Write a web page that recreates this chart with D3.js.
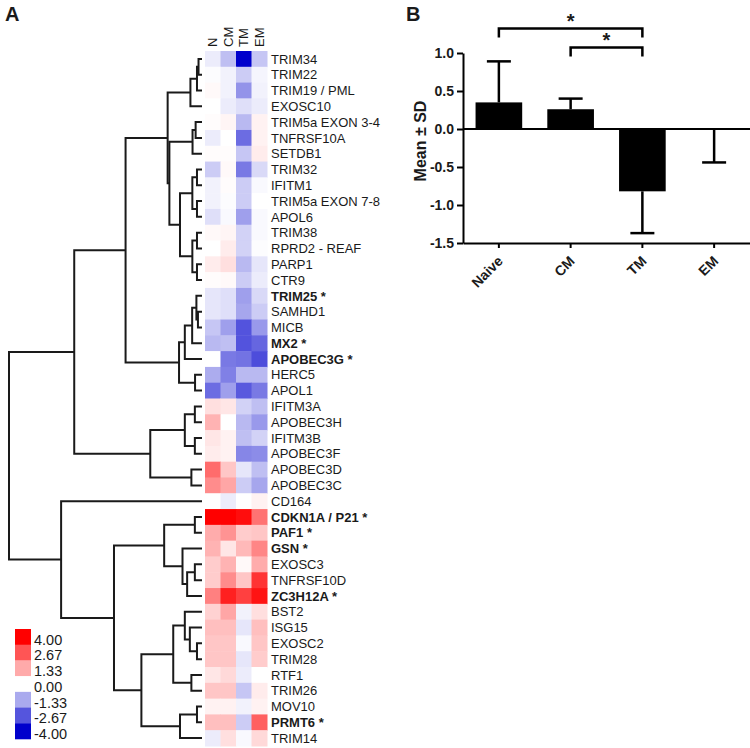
<!DOCTYPE html>
<html>
<head>
<meta charset="utf-8">
<script src="https://cdn.jsdelivr.net/npm/d3@7"></script>
<style>
body { margin: 0; background: #fff; }
text { font-family: Arial, "Liberation Sans", sans-serif; fill: #1a1a1a; }
</style>
</head>
<body>
<script>
// Panel A: genes (top to bottom), starred genes are drawn bold
var genes = ["TRIM34", "TRIM22", "TRIM19 / PML", "EXOSC10", "TRIM5a EXON 3-4", "TNFRSF10A", "SETDB1",
  "TRIM32", "IFITM1", "TRIM5a EXON 7-8", "APOL6", "TRIM38", "RPRD2 - REAF", "PARP1", "CTR9",
  "TRIM25", "SAMHD1", "MICB", "MX2", "APOBEC3G", "HERC5", "APOL1", "IFITM3A", "APOBEC3H",
  "IFITM3B", "APOBEC3F", "APOBEC3D", "APOBEC3C", "CD164", "CDKN1A / P21", "PAF1", "GSN",
  "EXOSC3", "TNFRSF10D", "ZC3H12A", "BST2", "ISG15", "EXOSC2", "TRIM28", "RTF1", "TRIM26",
  "MOV10", "PRMT6", "TRIM14"];
var starred = ["TRIM25", "MX2", "APOBEC3G", "CDKN1A / P21", "PAF1", "GSN", "ZC3H12A", "PRMT6"];
var columns = ["N", "CM", "TM", "EM"];

// values per gene: N, CM, TM, EM
var heatValues = [
  [-0.3, -1.0, -4.0, -0.9], [-0.05, -0.2, -0.8, -0.15], [0.1, -0.2, -1.7, -0.2], [0, -0.3, -0.5, -0.3],
  [0.05, 0.15, -1.1, 0.2], [-0.3, 0, -2.3, 0.2], [0.05, 0.05, -0.9, 0.3], [-0.8, 0.1, -2.1, -0.6],
  [-0.2, 0.05, -0.8, -0.1], [-0.2, -0.05, -0.8, 0], [-0.5, -0.1, -1.5, -0.1], [0.1, 0.15, -0.7, -0.1],
  [0, 0.3, -0.7, -0.05], [0.3, 0.5, -1.1, -0.4], [0.05, 0.1, -0.8, -0.3], [-0.4, -0.5, -1.5, -0.6],
  [-0.4, -0.5, -1.4, -0.8], [-0.9, -1.5, -2.7, -1.6], [-1.1, -1.0, -2.7, -2.4], [0, -2.1, -2.2, -2.8],
  [-1.3, -2.0, -1.1, -1.1], [-2.3, -1.5, -2.6, -2.1], [0.5, 0.4, -0.7, -1.0], [1.2, 0, -1.1, -1.6],
  [0.4, 0.2, -1.0, -0.7], [0.3, 0.2, -1.9, -1.8], [2.3, 0.9, -0.4, -1.0], [1.8, 1.4, -0.8, -1.4],
  [0, -0.3, 0, 0.2], [4.0, 4.0, 3.8, 2.2], [1.3, 1.7, 0.8, 0.9], [1.2, 0.4, 1.1, 1.9],
  [0.8, 1.2, 0.1, 1.3], [0.8, 1.8, 0.9, 3.2], [2.0, 3.5, 3.0, 3.7], [0.7, 1.4, -0.2, 0.5],
  [1.0, 1.0, -0.4, 1.0], [0.9, 0.9, -0.1, 0.9], [0.9, 0.9, -0.4, 0.8], [0.4, 0.6, -0.3, 0],
  [0.9, 0.9, -0.9, 0.3], [0.2, 0.2, -0.2, 0.2], [1.0, 1.0, -0.8, 2.5], [-0.3, 0.5, -0.1, 0.6]
];

// hierarchical clustering merges: [a, b, height]; negative = gene (1-based), positive = earlier merge
var merges = [
  [-1, -2, 0.18], [1, -3, 0.26], [2, -4, 0.60], [-5, -6, 0.33], [4, -7, 0.49],
  [-8, -9, 0.26], [-10, -11, 0.26], [6, 7, 0.50], [-12, -13, 0.26], [-14, -15, 0.26],
  [9, 10, 0.50], [8, 11, 1.14], [5, 12, 1.69], [3, 13, 1.78], [-17, -18, 0.21],
  [-16, 15, 0.29], [16, -19, 0.51], [17, -20, 0.89], [-21, -22, 0.36], [18, 19, 1.19],
  [14, 20, 3.96], [-23, -24, 0.37], [-25, -26, 0.37], [22, 23, 0.89], [-27, -28, 0.55],
  [24, 25, 2.68], [21, 26, 6.62], [-30, -31, 0.37], [-33, -34, 0.37], [29, -35, 0.77],
  [-32, 30, 1.01], [28, 31, 1.96], [-38, -39, 0.26], [-37, 33, 0.63], [-36, 34, 0.89],
  [-40, -41, 0.55], [35, 36, 1.49], [-42, -43, 0.26], [38, -44, 1.14], [37, 39, 3.14],
  [32, 40, 4.56], [-29, 41, 7.30], [27, 42, 10.0]
];

var legendValues = [4, 2.67, 1.33, 0, -1.33, -2.67, -4];

// Panel B
var barCats = ["Naive", "CM", "TM", "EM"];
var barMeans = [0.35, 0.26, -0.82, -0.01];
var barSD = [0.54, 0.14, 0.55, 0.43];
var yTicks = [-1.5, -1.0, -0.5, 0.0, 0.5, 1.0];
var sigPairs = [["Naive", "TM"], ["CM", "TM"]];

var width = 750, height = 748;
var svg = d3.select("body").append("svg").attr("width", width).attr("height", height);

// panel letters
svg.append("text").attr("x", 5).attr("y", 21).attr("font-size", 20).attr("font-weight", "bold").text("A");
svg.append("text").attr("x", 406).attr("y", 21).attr("font-size", 20).attr("font-weight", "bold").text("B");

// ---- heatmap ----
var rowY = d3.scaleBand().domain(genes).range([51, 746]);
var colX = d3.scaleBand().domain(columns).range([205, 267]);
var color = d3.scaleLinear().domain([-4, 0, 4]).range(["#0000cc", "#ffffff", "#ff0000"]);

var cells = [];
genes.forEach(function(g, i) {
  columns.forEach(function(c, j) { cells.push({gene: g, col: c, v: heatValues[i][j]}); });
});

svg.append("g").selectAll("rect")
  .data(cells)
  .enter().append("rect")
  .attr("x", d => colX(d.col))
  .attr("y", d => rowY(d.gene))
  .attr("width", colX.bandwidth() + 0.5)
  .attr("height", rowY.bandwidth() + 0.5)
  .attr("fill", d => color(d.v));

svg.append("g").selectAll("text")
  .data(columns)
  .enter().append("text")
  .attr("transform", d => "translate(" + (colX(d) + colX.bandwidth() / 2 + 4.5) + ",47) rotate(-90)")
  .attr("font-size", 13)
  .text(d => d);

svg.append("g").selectAll("text")
  .data(genes)
  .enter().append("text")
  .attr("x", 271)
  .attr("y", d => rowY(d) + rowY.bandwidth() / 2)
  .attr("dy", "0.36em")
  .attr("font-size", 13)
  .attr("font-weight", d => starred.indexOf(d) >= 0 ? "bold" : "normal")
  .text(d => starred.indexOf(d) >= 0 ? d + " *" : d);

// ---- dendrogram ----
var dendX = d3.scaleLinear().domain([0, 10]).range([202, 9]);
var nodes = [];
function nodePos(k) {
  if (k < 0) return {x: dendX(0), y: rowY(genes[-k - 1]) + rowY.bandwidth() / 2};
  return nodes[k - 1];
}
merges.forEach(function(m) {
  var a = nodePos(m[0]), b = nodePos(m[1]);
  nodes.push({x: dendX(m[2]), y: (a.y + b.y) / 2, a: a, b: b});
});

svg.append("g").selectAll("path")
  .data(nodes)
  .enter().append("path")
  .attr("d", d => "M" + d.a.x + "," + d.a.y + "H" + d.x + "V" + d.b.y + "H" + d.b.x)
  .attr("fill", "none")
  .attr("stroke", "#1a1a1a")
  .attr("stroke-width", 2);

// ---- colour legend ----
var legY = d3.scaleBand().domain(legendValues).range([629, 739]);
svg.append("g").selectAll("rect")
  .data(legendValues)
  .enter().append("rect")
  .attr("x", 15)
  .attr("y", d => legY(d))
  .attr("width", 16)
  .attr("height", legY.bandwidth() + 0.3)
  .attr("fill", d => color(d));
svg.append("g").selectAll("text")
  .data(legendValues)
  .enter().append("text")
  .attr("x", 34)
  .attr("y", d => legY(d) + legY.bandwidth())
  .attr("font-size", 14.5)
  .text(d => d.toFixed(2));

// ---- bar chart ----
var bx = d3.scaleBand().domain(barCats).range([463, 750]).paddingInner(0.35).paddingOuter(0.175);
var by = d3.scaleLinear().domain([-1.5, 1.0]).range([243, 53]);
var barData = barCats.map(function(c, i) { return {cat: c, mean: barMeans[i], sd: barSD[i]}; });

svg.append("g").selectAll("rect")
  .data(barData)
  .enter().append("rect")
  .attr("x", d => bx(d.cat))
  .attr("y", d => Math.min(by(d.mean), by(0)))
  .attr("width", bx.bandwidth())
  .attr("height", d => Math.abs(by(d.mean) - by(0)))
  .attr("fill", "#000");

// one-sided error bars
var err = svg.append("g").attr("stroke", "#000").attr("stroke-width", 2.5);
barData.forEach(function(d) {
  var cx = bx(d.cat) + bx.bandwidth() / 2;
  var tip = d.mean >= 0 ? d.mean + d.sd : d.mean - d.sd;
  err.append("line").attr("x1", cx).attr("x2", cx).attr("y1", by(d.mean)).attr("y2", by(tip));
  err.append("line").attr("x1", cx - 12).attr("x2", cx + 12).attr("y1", by(tip)).attr("y2", by(tip));
});

var yAxis = svg.append("g")
  .attr("transform", "translate(463,0)")
  .call(d3.axisLeft(by).tickValues(yTicks).tickFormat(d => d.toFixed(1)).tickSize(6).tickSizeOuter(0));
yAxis.selectAll("path, line").attr("stroke", "#000").attr("stroke-width", 2);
yAxis.selectAll("text").attr("font-size", 14).attr("font-weight", "bold")
  .attr("font-family", "Arial, 'Liberation Sans', sans-serif").attr("fill", "#1a1a1a");

var xAxis = svg.append("g")
  .attr("transform", "translate(0,243)")
  .call(d3.axisBottom(bx).tickSize(5).tickSizeOuter(0));
xAxis.selectAll("path, line").attr("stroke", "#000").attr("stroke-width", 2);
xAxis.selectAll("text")
  .attr("x", 0).attr("y", 0).attr("dy", 0)
  .attr("text-anchor", "end")
  .attr("transform", "translate(5,19) rotate(-45)")
  .attr("font-size", 14).attr("font-weight", "bold")
  .attr("font-family", "Arial, 'Liberation Sans', sans-serif").attr("fill", "#1a1a1a");

// zero line
svg.append("line")
  .attr("x1", 463).attr("x2", 750)
  .attr("y1", by(0)).attr("y2", by(0))
  .attr("stroke", "#000").attr("stroke-width", 2);

svg.append("text")
  .attr("transform", "translate(426,141) rotate(-90)")
  .attr("text-anchor", "middle")
  .attr("font-size", 16)
  .attr("font-weight", "bold")
  .text("Mean ± SD");

// significance brackets
var sig = svg.append("g");
sigPairs.forEach(function(p, i) {
  var x1 = bx(p[0]) + bx.bandwidth() / 2, x2 = bx(p[1]) + bx.bandwidth() / 2;
  var yb = 28.5 + i * 19;
  sig.append("path")
    .attr("d", "M" + x1 + "," + (yb + 9) + "V" + yb + "H" + x2 + "V" + (yb + 9))
    .attr("fill", "none").attr("stroke", "#000").attr("stroke-width", 2.5);
  sig.append("text")
    .attr("x", (x1 + x2) / 2)
    .attr("y", yb - 1)
    .attr("text-anchor", "middle")
    .attr("font-size", 20)
    .attr("font-weight", "bold")
    .text("*");
});
</script>
</body>
</html>
